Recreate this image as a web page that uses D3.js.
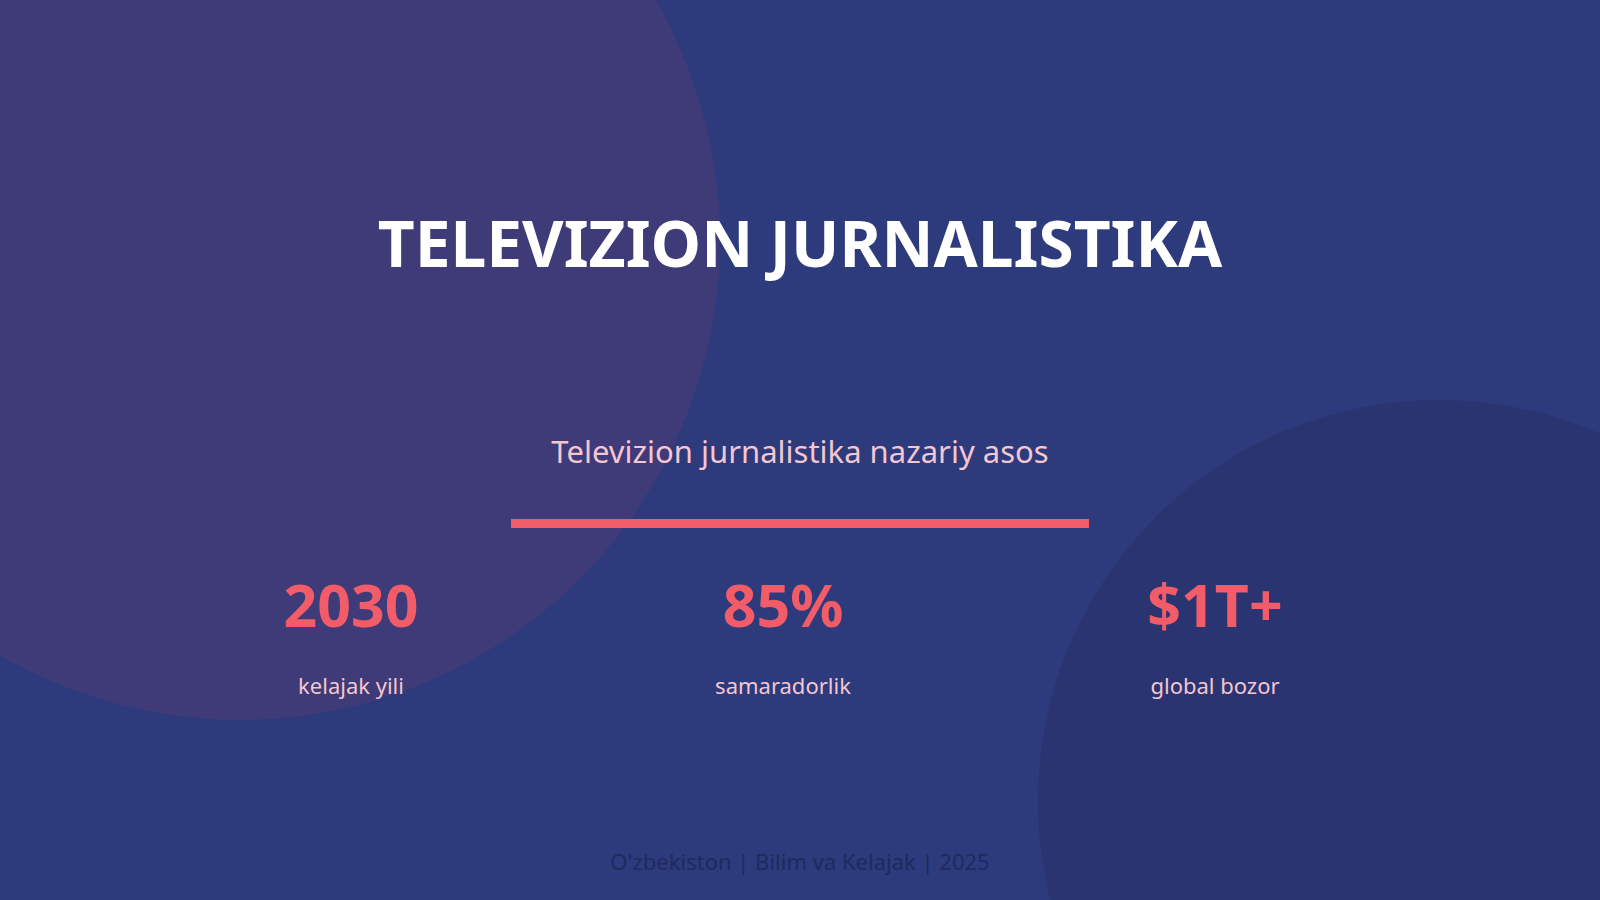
<!DOCTYPE html>
<html><head><meta charset="utf-8">
<script src="https://cdn.jsdelivr.net/npm/d3@7"></script>
<style>html,body{margin:0;padding:0;overflow:hidden;background:#2d3a7c}</style>
</head><body>
<script>
const title = "TELEVIZION JURNALISTIKA";
const subtitle = "Televizion jurnalistika nazariy asos";
const statValues = ["2030", "85%", "$1T+"];
const statLabels = ["kelajak yili", "samaradorlik", "global bozor"];
const footer = "O'zbekiston | Bilim va Kelajak | 2025";

const W = 1600, H = 900, font = "'Noto Sans', sans-serif";
const svg = d3.select("body").append("svg").attr("width", W).attr("height", H);
svg.append("rect").attr("width", W).attr("height", H).attr("fill", "#2d3a7c");
svg.append("circle").attr("cx", 240).attr("cy", 240).attr("r", 480).attr("fill", "#3f3a78");
svg.append("circle").attr("cx", 1439).attr("cy", 801).attr("r", 401).attr("fill", "#2a3470");

svg.append("text").attr("x", 800).attr("y", 267).attr("text-anchor", "middle")
  .attr("font-family", font).attr("font-weight", 700).attr("font-size", 64)
  .attr("fill", "#ffffff").text(title);
svg.append("text").attr("x", 800).attr("y", 463).attr("text-anchor", "middle")
  .attr("font-family", font).attr("font-size", 31).attr("fill", "#f4c6d0").text(subtitle);
svg.append("rect").attr("x", 511).attr("y", 519).attr("width", 578).attr("height", 9).attr("fill", "#f25c68");

const x = d3.scalePoint().domain(statValues).range([351, 1215]);
const g = svg.selectAll("g.stat").data(statValues).join("g").attr("transform", d => `translate(${x(d)},0)`);
g.append("text").attr("y", 627).attr("text-anchor", "middle").attr("font-family", font)
  .attr("font-weight", 700).attr("font-size", 59).attr("fill", "#f25c68").text(d => d);
g.append("text").attr("y", 694).attr("text-anchor", "middle").attr("font-family", font)
  .attr("font-size", 22).attr("fill", "#f4c6d0").text((d, i) => statLabels[i]);

svg.append("text").attr("x", 800).attr("y", 870).attr("text-anchor", "middle")
  .attr("font-family", font).attr("font-size", 22).attr("fill", "#1e2a60").text(footer);
</script>
</body></html>
